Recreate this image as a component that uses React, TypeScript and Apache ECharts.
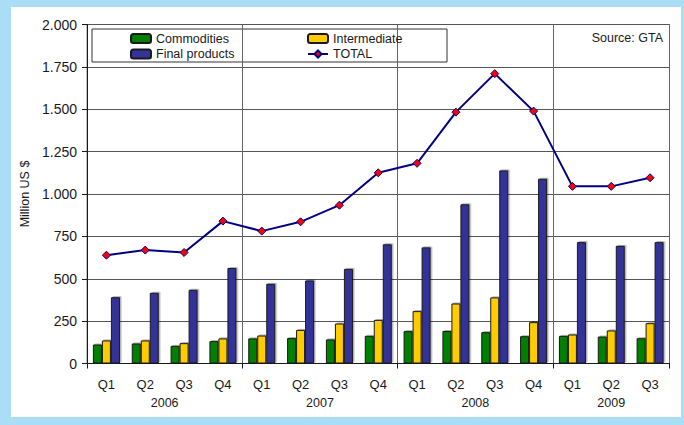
import React, { useEffect, useRef } from "react";
import * as echarts from "echarts";

const quarters = ["Q1", "Q2", "Q3", "Q4", "Q1", "Q2", "Q3", "Q4", "Q1", "Q2", "Q3", "Q4", "Q1", "Q2", "Q3"];
const yearLabels = ["2006", "2007", "2008", "2009"];
const yearCenters = [2, 6, 10, 13.5];
const commodities = [112, 118, 104, 132, 148, 150, 142, 163, 191, 192, 185, 161, 163, 159, 149];
const intermediate = [136, 136, 120, 148, 165, 198, 236, 257, 309, 354, 390, 244, 171, 195, 238];
const finalProducts = [391, 417, 435, 563, 470, 490, 558, 703, 685, 939, 1139, 1090, 716, 694, 716];
const total = [639, 669, 655, 840, 781, 836, 934, 1125, 1181, 1483, 1710, 1489, 1045, 1045, 1096];

const FONT = "'Liberation Sans', Arial, sans-serif";
const TXT = "#1a1a1a";

function fmtThousands(v: number): string {
  const s = String(Math.round(v));
  return s.replace(/\B(?=(\d{3})+(?!\d))/g, ".");
}

export default function App() {
  const ref = useRef<HTMLDivElement>(null);
  useEffect(() => {
    if (!ref.current) return;
    const chart = echarts.init(ref.current, undefined, { renderer: "svg" });
    const barItem = (color: string) => ({
      color,
      borderColor: "#1a1a1a",
      borderWidth: 1,
      shadowColor: "rgba(0,0,0,0.3)",
      shadowOffsetX: 1.5,
      shadowOffsetY: -1,
      shadowBlur: 1,
    });
    chart.setOption({
      animation: false,
      textStyle: { fontFamily: FONT },
      grid: {
        left: 87,
        top: 24.5,
        width: 582.5,
        height: 339,
        show: true,
        borderColor: "#808080",
        borderWidth: 1,
        backgroundColor: "transparent",
        containLabel: false,
      },
      legend: [
        {
          data: ["Commodities", "Final products"],
          orient: "vertical",
          left: 130,
          top: 31.5,
          itemWidth: 20,
          itemHeight: 9,
          itemGap: 1.5,
          padding: 0,
          textStyle: { fontSize: 12.5, color: TXT, lineHeight: 14, fontFamily: FONT },
        },
        {
          data: ["Intermediate", "TOTAL"],
          orient: "vertical",
          left: 307,
          top: 31.5,
          itemWidth: 20,
          itemHeight: 9,
          itemGap: 1.5,
          padding: 0,
          textStyle: { fontSize: 12.5, color: TXT, lineHeight: 14, fontFamily: FONT },
        },
      ],
      graphic: [
        {
          type: "rect",
          shape: { x: 92, y: 29, width: 355, height: 33 },
          style: { fill: "none", stroke: "#333", lineWidth: 1 },
          silent: true,
        },
        {
          type: "text",
          x: 663,
          y: 38,
          style: {
            text: "Source: GTA",
            font: `12.5px ${FONT}`,
            fill: TXT,
            textAlign: "right",
            textVerticalAlign: "middle",
          },
          silent: true,
        },
      ],
      xAxis: [
        {
          type: "category",
          data: quarters,
          position: "bottom",
          axisLine: { show: true, lineStyle: { color: "#1a1a1a", width: 1 } },
          axisTick: {
            show: true,
            length: 5,
            interval: (i: number) => i % 4 === 0,
            lineStyle: { color: "#1a1a1a" },
          },
          axisLabel: { fontSize: 13, color: TXT, margin: 14, interval: 0 },
          splitLine: {
            show: true,
            interval: (i: number) => i % 4 === 0 && i > 0,
            lineStyle: { color: "#666", width: 1 },
          },
        },
        {
          type: "value",
          min: 0,
          max: 15,
          interval: 0.5,
          position: "bottom",
          axisLine: { show: false },
          axisTick: { show: false },
          splitLine: { show: false },
          axisLabel: {
            fontSize: 12.5,
            color: TXT,
            margin: 33,
            showMinLabel: true,
            showMaxLabel: true,
            formatter: (v: number) => {
              const k = yearCenters.indexOf(v);
              return k >= 0 ? yearLabels[k] : "";
            },
          },
        },
      ],
      yAxis: {
        type: "value",
        min: 0,
        max: 2000,
        interval: 250,
        name: "Million US $",
        nameLocation: "middle",
        nameRotate: 90,
        nameGap: 55,
        nameTextStyle: { fontSize: 12.5, color: TXT },
        axisLine: { show: true, lineStyle: { color: "#1a1a1a", width: 1 } },
        axisTick: { show: true, length: 5, lineStyle: { color: "#1a1a1a" } },
        axisLabel: {
          fontSize: 14,
          color: TXT,
          margin: 10,
          formatter: (v: number) => fmtThousands(v),
        },
        splitLine: { show: true, lineStyle: { color: "#555", width: 1 } },
      },
      series: [
        {
          name: "Commodities",
          type: "bar",
          data: commodities,
          barWidth: 9,
          barGap: "0%",
          itemStyle: barItem("#008000"),
        },
        {
          name: "Intermediate",
          type: "bar",
          data: intermediate,
          barWidth: 9,
          barGap: "0%",
          itemStyle: barItem("#ffcc00"),
        },
        {
          name: "Final products",
          type: "bar",
          data: finalProducts,
          barWidth: 9,
          barGap: "0%",
          itemStyle: barItem("#333399"),
        },
        {
          name: "TOTAL",
          type: "line",
          data: total,
          symbol: "diamond",
          symbolSize: 8,
          lineStyle: { color: "#000080", width: 2 },
          itemStyle: { color: "#ff0000", borderColor: "#000080", borderWidth: 1 },
          z: 5,
        },
      ],
    });
    return () => chart.dispose();
  }, []);

  return (
    <div style={{ position: "fixed", left: 0, top: 0, width: 684, height: 425, background: "#a9def6" }}>
      <div style={{ position: "absolute", left: 11, top: 7, width: 670, height: 410, background: "#ffffff" }} />
      <div ref={ref} style={{ position: "absolute", left: 0, top: 0, width: 684, height: 425 }} />
    </div>
  );
}
